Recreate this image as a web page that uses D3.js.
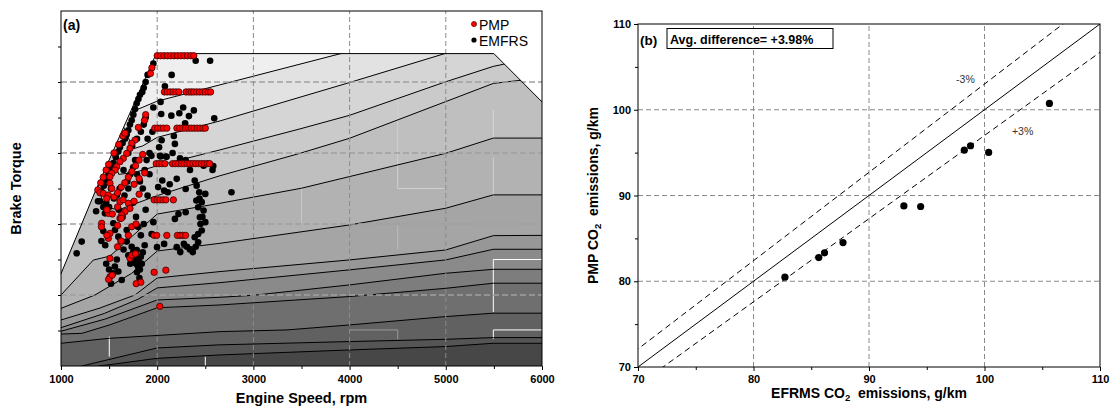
<!DOCTYPE html>
<html><head><meta charset="utf-8">
<script src="https://cdn.jsdelivr.net/npm/d3@7"></script>
<style>body{margin:0;background:#fff} text{font-family:"Liberation Sans",Arial,sans-serif}</style>
</head><body><svg id="c" width="1116" height="407"></svg>
<script>
// ---------- Panel (a) data ----------
const speedTicks = [1000, 2000, 3000, 4000, 5000, 6000];
const speedMinor = [1500, 2500, 3500, 4500, 5500];
const torqueGrid = [50, 100, 150, 200];
const torqueTicks = [25, 50, 75, 100, 125, 150, 175, 200, 225];
// full-load envelope [rpm, torque]
const envelope = [[1000,65],[1350,122],[1990,220],[5500,220],[6000,186]];
// contour lines, top to bottom [rpm, torque]
const L1 = [[1000,260],[1700,178],[2000,186.5],[2653,198],[3919,220.2],[6000,257]];
const L2 = [[1000,260],[1640,170],[1750,153],[1850,155],[2000,161],[2653,172.6],[3998,199.6],[4999,220.2],[6000,241]];
const L3 = [[1000,260],[1520,152],[1600,135],[1750,136],[2000,141],[2653,152.2],[3485,167],[3998,176.5],[4992,200],[5494,211],[5600,212.5],[6000,218]];
const L4 = [[1000,260],[1380,128],[1450,112],[1600,110],[2000,120],[2653,134],[3485,149.8],[3997,160.3],[4992,186],[5494,199],[5750,201],[6000,203]];
const L5 = [[1000,50],[1336,74.6],[1509,77.4],[1750,92],[2000,107],[2653,114.6],[3500,125.2],[4000,133.4],[5000,149.8],[5494,160.5],[6000,160.5]];
const L6 = [[1000,40.6],[1353,50],[1735,65.3],[2000,81],[2653,86.4],[3998,99.3],[4999,111.1],[5494,120.5],[6000,120.5]];
const L7 = [[1000,32.4],[1395,40.6],[1769,50],[2000,62],[2653,66.5],[3998,74.7],[4999,81.7],[5494,91.8],[6000,92]];
const L8 = [[1000,27],[1450,37],[1800,47],[2000,55],[2653,58.7],[3998,67.7],[4999,74.7],[5494,82.2],[6000,82.2]];
const L9 = [[1000,24.5],[1457,33],[2000,46.5],[2653,48.4],[3000,49.8],[3998,57.1],[4999,65.3],[5494,68.1],[6000,68.1]];
const L10 = [[1000,22.5],[1218,23],[1509,29],[2000,41],[2653,43],[3998,48.9],[4999,54.7],[5494,58.3],[6000,58.3]];
const L11 = [[1000,16],[1500,19.5],[2000,21.5],[2653,24.2],[3350,25.4],[3998,28.9],[4999,34.8],[5494,37.2],[6000,37.2]];
const L12 = [[1000,-5],[1216,0],[2000,12.7],[2653,14.9],[3998,17.2],[4999,18.8],[5494,20],[6000,20]];
const L13 = [[1000,-10],[1400,0],[2000,5.4],[2653,7.8],[3998,11.3],[4999,13.7],[5494,16],[6000,16]];
const contourLines = [L1,L2,L3,L4,L5,L6,L7,L8,L9,L10,L11,L12,L13];
const bandColors = ["#efefef","#e2e2e2","#d5d5d5","#cacaca","#bfbfbf","#b2b2b2","#a5a5a5","#979797","#8a8a8a","#7d7d7d","#6f6f6f","#616161","#555555","#474747"];
// faint cell edges of the map [rpm1, T1, rpm2, T2, colour]
const cellEdges = [
  [5494,180,5494,160,"#d8d8d8"],[5494,147,5494,120,"#d0d0d0"],[4500,187,4500,125,"#d0d0d0"],[4500,125,5000,125,"#d0d0d0"],
  [3500,125,3500,101,"#c8c8c8"],[4500,99,4500,82,"#bbbbbb"],[5494,75,6000,75,"#ffffff"],[5494,75,5494,38,"#ffffff"],
  [5494,25.4,6000,25.4,"#ffffff"],[5494,25.4,5494,19,"#ffffff"],[4000,25.4,4500,25.4,"#999999"],[4500,25.4,4500,18.8,"#999999"],
  [1502,20.7,1502,6.6,"#ffffff"],[2500,6.6,2500,0,"#ffffff"]
];
// PMP points [rpm, torque]
const pmp = [
  [2000,218.5],[2035,218.5],[2070,218.5],[2105,218.5],[2140,218.5],[2175,218.5],[2210,218.5],[2245,218.5],[2280,218.5],[2315,218.5],[2350,218.5],[2380,218.5],
  [1945,210],[1930,206],
  [2075,193],[2105,193],[2135,193],[2165,193],[2195,193],[2225,193],[2300,193],[2330,193],[2355,193],[2380,193],[2410,193],[2440,193],[2470,193],[2500,193],[2530,193],[2555,193],
  [1975,167.5],[2005,167.5],[2035,167.5],[2065,167.5],[2100,167.5],[2205,167.5],[2235,167.5],[2265,167.5],[2295,167.5],[2325,167.5],[2355,167.5],[2385,167.5],[2415,167.5],[2445,167.5],[2475,167.5],[2500,167.5],
  [1880,177],[1868,173],
  [1990,142.5],[2020,142.5],[2050,142.5],[2080,142.5],[2160,142.5],[2190,142.5],[2220,142.5],[2250,142.5],[2280,142.5],[2310,142.5],[2340,142.5],[2370,142.5],[2400,142.5],[2430,142.5],[2460,142.5],[2490,142.5],[2520,142.5],[2545,142.5],
  [1968,117],[1998,117],[2028,117],[2060,117],[2090,117],[2168,117],
  [1968,92],[1995,92],[2100,92],[2210,92],[2240,92],[2265,92],[2295,92],
  [1968,66],[2090,67.5],[2027,42],
  [1383,124],[1413,129],[1439,133],[1469,138],[1495,142],[1551,150],[1600,156],[1644,162],
  [1665,164],[1804,168],[1769,159.1],[1735,156.8],[1717,153.3],[1683,149.7],[1648,146.2],[1613,143.9],[1579,140.4],[1561,138],[1527,135.7],[1509,133.3],
  [1405,122],[1509,128.7],[1527,125.1],[1440,121.6],[1492,120.4],[1475,118],[1613,115.7],[1700,114.6],[1717,111],[1665,108.7],[1631,106.4],[1613,104],[1492,107.5],[1423,100.5],[1509,93.4],[1492,89.9],[1735,98.1],[1717,75.8],[1509,75.8],[1509,62.9],
  [1477,110],[1551,119],[1588,122],[1626,126],[1663,129],[1700,133],[1737,137],[1775,141],[1812,145],[1849,149],
  [1420,98],[1533,107],[1588,112],[1644,117],[1760,128],[1812,132],[1870,136],
  [1477,92],[1588,99],[1626,104],[1760,116],[1812,121],
  [1588,84],[1626,88],[1700,92],[1780,100],
  [1495,61],[1532,64],[1737,78],[1774,79],[1782,58],[1830,59]
];
// EMFRS points [rpm, torque]
const emfrs = [
  [2400,215],[2550,215],[1960,213],[2150,205],[2080,197],
  [1900,205],[1880,200],[1860,196],[1845,193],[1821,191],[1805,188],[1787,185],[1770,181],[1752,177],[1735,173],[1717,170],[1700,166],[1683,163],[1665,160],[1640,157],[1613,154],[1596,151],[1570,147],[1545,143],[1520,139],[1495,135],[1470,131],[1445,127],[1420,123],[1385,116],
  [2035,186],[1960,182],[2270,182],[2381,180],[2593,174.4],[2042,177.5],[2147,176.3],[2230,178],[2330,176],[2290,171],
  [2173,162],[2184,156.4],[2020,154],[2160,150],[2046,159],[2029,148],[2098,147.4],[2237,146.2],[2341,138],[2583,140.8],[2035,147.5],[2090,147.5],[2240,144.7],[2296,145],[2482,141],[2575,138],[2053,130.6],[2203,131.8],[2296,124.7],[2390,130.6],[2410,127],[2437,122.4],[2500,121.2],[2772,122.4],[2110,122.4],[2072,123.6],[2130,128],[2010,126],
  [2221,107],[2184,103.6],[2296,108.3],[2407,116.5],[2426,111.8],[2463,115.4],[2482,109.5],[2444,104.8],[2500,101.3],[2463,95.4],[2426,93],[2390,90.7],[2426,87.2],[2370,80.2],[2340,82],[2240,80.2],[2203,83.7],[2277,86],[2310,84],[2072,86],[1998,83.7],[1942,93],[1960,101.3],[2400,84],[2450,100],[2470,105],[2440,118],
  [1365,109],[1405,116],[1457,107.5],[1544,100.5],[1561,95.8],[1596,91.1],[1683,95.8],[1683,87.6],[1735,84],[1787,81.7],[1215,87.6],[1163,79.4],[1596,66.5],[1631,60.6],[1544,65.3],
  [1750,80],[1770,78],[1790,76],[1810,74],[1830,77],[1800,70],[1780,72],[1820,68],[1840,72],[1760,74],[1790,66],[1815,62],[1850,80],[1870,85],[1700,78],[1720,72],[1650,82],[1620,88],[1580,75],[1560,70],[1520,58],[1500,68],[1470,72],[1420,88],[1440,95],[1460,85],
  [1600,110],[1640,105],[1660,120],[1700,125],[1750,115],[1780,105],[1800,98],[1830,92],[1860,100],[1880,110],[1900,120],[1920,135],[1940,148],[1870,138],[1850,125],[1820,130],[1790,135],[1770,145],[1750,140],[1720,135],[1690,130],[1650,138],[1610,125],[1580,120],[1550,118],[1500,112],[1470,115],[1440,112],[1520,125],[1700,150],[1740,155],[1790,160],[1830,165],[1860,170],[1880,175],[1900,160],[1920,150],[1950,165],[1890,145]
];
// ---------- Panel (b) data ----------
const co2Ticks = [70, 80, 90, 100, 110];
const co2Minor = [75, 85, 95, 105];
const co2Grid = [80, 90, 100];
const efrmsCO2 = [82.72, 85.65, 86.15, 87.75, 93.02, 94.47, 98.25, 98.79, 100.36, 105.62];
const pmpCO2   = [80.47, 82.76, 83.31, 84.51, 88.79, 88.72, 95.29, 95.80, 95.02, 100.74];
const refLines = [{k:1, dash:null}, {k:1.03, dash:"6,4"}, {k:0.97, dash:"6,4"}];
const refLabels = [{x:98.35, y:103.6, t:"-3%"}, {x:103.3, y:97.5, t:"+3%"}];

const svg = d3.select("#c");
const FONT = '"Liberation Sans", Arial, sans-serif';

// ================= Panel (a) =================
const xL = d3.scaleLinear().domain([1000,6000]).range([61,542]);
const yL = d3.scaleLinear().domain([0,250]).range([366,11]);
const lineL = d3.line().x(d=>xL(d[0])).y(d=>yL(d[1]));
const defs = svg.append("defs");
const envPoly = envelope.concat([[6000,0],[1000,0]]);
defs.append("clipPath").attr("id","envclip").append("path").attr("d", lineL(envPoly)+"Z");
const gA = svg.append("g");
const gMap = gA.append("g").attr("clip-path","url(#envclip)");
gMap.append("path").attr("d", lineL(envPoly)+"Z").attr("fill", bandColors[0]);
contourLines.forEach((ln,i)=>{
  const poly = ln.concat([[6100,-30],[900,-30]]);
  gMap.append("path").attr("d", lineL(poly)+"Z").attr("fill", bandColors[i+1]);
});
cellEdges.forEach(e=>{
  gMap.append("line").attr("x1",xL(e[0])).attr("y1",yL(e[1])).attr("x2",xL(e[2])).attr("y2",yL(e[3]))
    .attr("stroke",e[4]).attr("stroke-width",1);
});
contourLines.forEach(ln=>{
  gMap.append("path").attr("d", lineL(ln)).attr("fill","none").attr("stroke","#000").attr("stroke-width",1);
});
// grid
torqueGrid.forEach(t=>{
  gA.append("line").attr("x1",xL(1000)).attr("x2",xL(6000)).attr("y1",yL(t)).attr("y2",yL(t))
    .attr("stroke","#a0a0a0").attr("stroke-width",1.3).attr("stroke-dasharray","6,3");
});
speedTicks.slice(1,5).forEach(s=>{
  gA.append("line").attr("x1",xL(s)).attr("x2",xL(s)).attr("y1",yL(0)).attr("y2",yL(250))
    .attr("stroke","#8a8a8a").attr("stroke-width",1).attr("stroke-dasharray","5,3");
});
gA.append("path").attr("d", lineL(envelope)).attr("fill","none").attr("stroke","#000").attr("stroke-width",1);
// points
gA.append("g").selectAll("circle").data(emfrs).join("circle")
  .attr("cx",d=>xL(d[0])).attr("cy",d=>yL(d[1])).attr("r",3.3).attr("fill","#000");
gA.append("g").selectAll("circle").data(pmp).join("circle")
  .attr("cx",d=>xL(d[0])).attr("cy",d=>yL(d[1])).attr("r",3.2).attr("fill","#f00").attr("stroke","#3a0000").attr("stroke-width",0.8);
// frame
gA.append("rect").attr("x",xL(1000)).attr("y",yL(250)).attr("width",xL(6000)-xL(1000)).attr("height",yL(0)-yL(250))
  .attr("fill","none").attr("stroke","#000").attr("stroke-width",1);
// axes
const axB = gA.append("g").attr("transform",`translate(0,${yL(0)})`)
  .call(d3.axisBottom(xL).tickValues(speedTicks).tickSize(4).tickFormat(d3.format("d")));
axB.select(".domain").remove();
axB.selectAll("text").attr("font-family",FONT).attr("font-weight","bold").attr("font-size",11).attr("fill","#000").attr("dy","0.95em");
const axBm = gA.append("g").attr("transform",`translate(0,${yL(0)})`)
  .call(d3.axisBottom(xL).tickValues(speedMinor).tickSize(3).tickFormat(""));
axBm.select(".domain").remove();
const axLft = gA.append("g").attr("transform",`translate(${xL(1000)},0)`)
  .call(d3.axisLeft(yL).tickValues(torqueTicks).tickSize(3).tickFormat(""));
axLft.select(".domain").remove();
gA.append("text").attr("x",(xL(1000)+xL(6000))/2).attr("y",403).attr("text-anchor","middle")
  .attr("font-family",FONT).attr("font-weight","bold").attr("font-size",14.5).text("Engine Speed, rpm");
gA.append("text").attr("transform",`translate(21,${(yL(0)+yL(250))/2}) rotate(-90)`).attr("text-anchor","middle")
  .attr("font-family",FONT).attr("font-weight","bold").attr("font-size",14.5).text("Brake Torque");
gA.append("text").attr("x",63).attr("y",30).attr("font-family",FONT).attr("font-weight","bold").attr("font-size",14).text("(a)");
// legend
gA.append("circle").attr("cx",474).attr("cy",24).attr("r",2.6).attr("fill","#f00").attr("stroke","#3a0000").attr("stroke-width",0.6);
gA.append("text").attr("x",479).attr("y",30).attr("font-family",FONT).attr("font-size",14).text("PMP");
gA.append("circle").attr("cx",474).attr("cy",40).attr("r",2.6).attr("fill","#000");
gA.append("text").attr("x",479).attr("y",46).attr("font-family",FONT).attr("font-size",14).text("EMFRS");

// ================= Panel (b) =================
const xR = d3.scaleLinear().domain([70,110]).range([638,1100]);
const yR = d3.scaleLinear().domain([70,110]).range([367,24]);
const gB = svg.append("g");
defs.append("clipPath").attr("id","bclip").append("rect")
  .attr("x",xR(70)).attr("y",yR(110)).attr("width",xR(110)-xR(70)).attr("height",yR(70)-yR(110));
co2Grid.forEach(v=>{
  gB.append("line").attr("x1",xR(v)).attr("x2",xR(v)).attr("y1",yR(70)).attr("y2",yR(110))
    .attr("stroke","#8a8a8a").attr("stroke-dasharray","5,3");
  gB.append("line").attr("x1",xR(70)).attr("x2",xR(110)).attr("y1",yR(v)).attr("y2",yR(v))
    .attr("stroke","#8a8a8a").attr("stroke-dasharray","5,3");
});
const gRef = gB.append("g").attr("clip-path","url(#bclip)");
refLines.forEach(r=>{
  gRef.append("line").attr("x1",xR(60)).attr("y1",yR(60*r.k)).attr("x2",xR(120)).attr("y2",yR(120*r.k))
    .attr("stroke","#000").attr("stroke-width",1).attr("stroke-dasharray",r.dash);
});
refLabels.forEach(l=>{
  gB.append("text").attr("x",xR(l.x)).attr("y",yR(l.y)+4).attr("text-anchor","middle")
    .attr("font-family",FONT).attr("font-size",10.5).attr("fill","#333").text(l.t);
});
gB.append("g").selectAll("circle").data(efrmsCO2).join("circle")
  .attr("cx",(d)=>xR(d)).attr("cy",(d,i)=>yR(pmpCO2[i])).attr("r",3.6).attr("fill","#000");
gB.append("rect").attr("x",xR(70)).attr("y",yR(110)).attr("width",xR(110)-xR(70)).attr("height",yR(70)-yR(110))
  .attr("fill","none").attr("stroke","#000");
const bx = gB.append("g").attr("transform",`translate(0,${yR(70)})`)
  .call(d3.axisBottom(xR).tickValues(co2Ticks).tickSize(4).tickFormat(d3.format("d")));
bx.select(".domain").remove();
bx.selectAll("text").attr("font-family",FONT).attr("font-weight","bold").attr("font-size",11).attr("fill","#000").attr("dy","0.85em");
const bxm = gB.append("g").attr("transform",`translate(0,${yR(70)})`)
  .call(d3.axisBottom(xR).tickValues(co2Minor).tickSize(3).tickFormat(""));
bxm.select(".domain").remove();
const by = gB.append("g").attr("transform",`translate(${xR(70)},0)`)
  .call(d3.axisLeft(yR).tickValues(co2Ticks).tickSize(4).tickFormat(d3.format("d")));
by.select(".domain").remove();
by.selectAll("text").attr("font-family",FONT).attr("font-weight","bold").attr("font-size",11).attr("fill","#000");
const bym = gB.append("g").attr("transform",`translate(${xR(70)},0)`)
  .call(d3.axisLeft(yR).tickValues(co2Minor).tickSize(3).tickFormat(""));
bym.select(".domain").remove();
// titles
const tx = gB.append("text").attr("x",(xR(70)+xR(110))/2).attr("y",398).attr("text-anchor","middle")
  .attr("font-family",FONT).attr("font-weight","bold").attr("font-size",14);
tx.append("tspan").text("EFRMS CO");
tx.append("tspan").attr("font-size",9.5).attr("dy",3).text("2");
tx.append("tspan").attr("dy",-3).text("\u00a0 emissions, g/km");
const ty = gB.append("text").attr("transform",`translate(598,${(yR(70)+yR(110))/2}) rotate(-90)`).attr("text-anchor","middle")
  .attr("font-family",FONT).attr("font-weight","bold").attr("font-size",14);
ty.append("tspan").text("PMP CO");
ty.append("tspan").attr("font-size",9.5).attr("dy",3).text("2");
ty.append("tspan").attr("dy",-3).text("\u00a0 emissions, g/km");
gB.append("text").attr("x",640).attr("y",45).attr("font-family",FONT).attr("font-weight","bold").attr("font-size",13.5).text("(b)");
gB.append("rect").attr("x",667).attr("y",28.5).attr("width",166).attr("height",20).attr("fill","#fff").attr("stroke","#000");
gB.append("text").attr("x",670).attr("y",43.5).attr("font-family",FONT).attr("font-weight","bold").attr("font-size",12.5).text("Avg. difference= +3.98%");
</script></body></html>
